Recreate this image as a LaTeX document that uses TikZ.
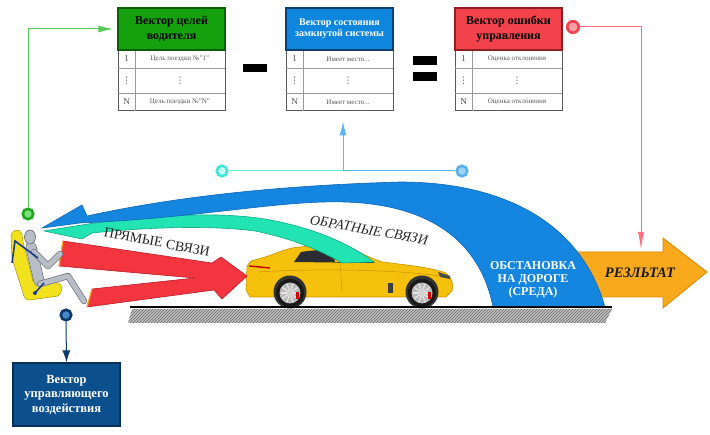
\documentclass[tikz,border=0pt]{standalone}
\usepackage{fontspec}
\setmainfont{Liberation Serif}
\newfontfamily\symfont{DejaVu Sans}
\usetikzlibrary{arrows.meta,patterns}
\definecolor{hgreen}{HTML}{15A10E}
\definecolor{hgreenD}{HTML}{0D5E08}
\definecolor{hblue}{HTML}{0E86DE}
\definecolor{hblueD}{HTML}{0B3F70}
\definecolor{hred}{HTML}{F2434C}
\definecolor{hredD}{HTML}{8E1E24}
\definecolor{archblue}{HTML}{1586DF}
\definecolor{archblueD}{HTML}{0E66B8}
\definecolor{teal}{HTML}{22E3B2}
\definecolor{tealD}{HTML}{12A888}
\definecolor{redarr}{HTML}{F2353F}
\definecolor{redarrD}{HTML}{B81E28}
\definecolor{orarr}{HTML}{F8A91C}
\definecolor{orarrD}{HTML}{DE8600}
\definecolor{ctrlblue}{HTML}{0B4F8C}
\definecolor{ctrlblueD}{HTML}{072F58}
\definecolor{seatY}{HTML}{F2E21E}
\definecolor{seatD}{HTML}{B0A010}
\definecolor{manL}{HTML}{B9BDC6}
\definecolor{manD}{HTML}{6E747E}
\definecolor{belt}{HTML}{1B3C8C}
\definecolor{carY}{HTML}{F6C10C}
\definecolor{carD}{HTML}{C99200}
\definecolor{carWin}{HTML}{2B2C33}
\definecolor{gLine}{HTML}{58C858}
\definecolor{gRing}{HTML}{1FA81F}
\definecolor{gIn}{HTML}{7BE07B}
\definecolor{rLine}{HTML}{FF6F80}
\definecolor{rRing}{HTML}{F2404F}
\definecolor{rIn}{HTML}{FF9DA4}
\definecolor{cLine}{HTML}{5FEBDD}
\definecolor{cRing}{HTML}{42E6D6}
\definecolor{cIn}{HTML}{C4FFF8}
\definecolor{bLine}{HTML}{5EB6F0}
\definecolor{bRing}{HTML}{58B0EE}
\definecolor{bIn}{HTML}{A2D4F8}
\definecolor{dRing}{HTML}{0C3A6A}
\definecolor{dIn}{HTML}{4A86C8}
\newcommand\hdrbig{\bfseries\fontsize{12}{14.5}\selectfont}
\newcommand\hdrsmall{\bfseries\fontsize{10}{11.5}\selectfont}
\newcommand\mydots{{\symfont ⋮}}
\newcommand\vectable[9]{%
  \node[rowbox] (#1rows) at ({#2+53.5},80.5) {};
  \draw[rowline] (#2,68) -- ({#2+107},68);
  \draw[rowline] (#2,93) -- ({#2+107},93);
  \draw[rowline] ({#2+17},50) -- ({#2+17},111);
  \node[hdr, fill=#3, draw=#4, text=#5, font=#9] (#1h) at ({#2+53.5},29) {#6};
  \node[numtxt] (#1n1) at ({#2+8.5},59) {1};
  \node[numtxt] (#1n2) at ({#2+8.5},80.5) {\mydots};
  \node[numtxt] (#1n3) at ({#2+8.5},102) {N};
  \node[rowtxt] (#1t1) at ({#2+62},59) {#7};
  \node[numtxt] (#1t2) at ({#2+62},80.5) {\mydots};
  \node[rowtxt] (#1t3) at ({#2+62},102) {#8};
}
\begin{document}
\begin{tikzpicture}[x=1pt,y=-1pt,
  hdr/.style={draw, line width=1.4pt, minimum width=107pt, minimum height=42pt, inner sep=1pt, align=center},
  rowbox/.style={draw=black!65, line width=1pt, fill=white, minimum width=107pt, minimum height=61pt, inner sep=0},
  rowline/.style={draw=black!40, line width=0.6pt},
  numtxt/.style={font=\fontsize{9}{10}\selectfont, text=black!70, inner sep=0},
  rowtxt/.style={font=\fontsize{7}{8}\selectfont, text=black!65, inner sep=0},
  dotc/.style={circle, minimum size=10.5pt, inner sep=0, line width=2.6pt},
  conn/.style={line width=1pt},
  limbD/.style={draw=manD, line width=6.4pt, line cap=round, line join=round},
  limbL/.style={draw=manL, line width=5pt, line cap=round, line join=round},
  slant/.style={font=\fontsize{14}{15}\selectfont, text=black!85, inner sep=0},
]
\useasboundingbox (0,0) rectangle (710,435);

% ---------- road ----------
\fill[gray!50] (132,309) -- (612,309) -- (605,323) -- (128,323) -- cycle;
\fill[pattern=north east lines, pattern color=gray!85!black] (132,309) -- (612,309) -- (605,323) -- (128,323) -- cycle;

% ---------- result arrow ----------
\filldraw[fill=orarr, draw=orarrD, line width=0.8pt] (575,252) -- (663,252) -- (663,238) -- (707,272) -- (663,308) -- (663,297) -- (575,297) -- cycle;
\node[font=\bfseries\itshape\fontsize{14.5}{15}\selectfont, text=black!90, inner sep=0] (res) at (640,273) {РЕЗЛЬТАТ};

% ---------- car ----------
\filldraw[fill=carY, draw=carD, line width=0.6pt]
  (247,266) -- (251,261) -- (262,258) .. controls (272,255) and (280,251) .. (292,248)
  .. controls (310,245) and (335,245) .. (350,249) .. controls (362,253) and (372,259) .. (383,262)
  .. controls (405,265) and (430,267) .. (446,273) .. controls (452,277) and (454,286) .. (452,291)
  -- (446,297) -- (250,297) -- (246,290) -- cycle;
\fill[carWin] (294,262) -- (301,252) .. controls (320,249) and (342,249) .. (352,252) -- (375,263) -- cycle;
\fill[carY] (333,250) -- (338,250) -- (340,262) -- (335,262) -- cycle;
\draw[carD, line width=0.5pt] (258,272) .. controls (320,268) and (400,270) .. (440,276);
\draw[carD, line width=0.4pt] (340,263) -- (342,292);
\draw[red!75!black, line width=1.4pt] (249,266) -- (270,268);
\fill[black!70] (438,272) -- (450,276) -- (450,279) -- (440,277) -- cycle;
\fill[black!75] (388,283) rectangle (393,293);
\foreach \wx in {290,422}{
  \fill[black!80] (\wx,292) circle (16.5);
  \fill[black!90] (\wx,293) circle (14);
  \fill[gray!55] (\wx,293) circle (10.5);
  \foreach \a in {0,36,...,324}{\draw[gray!20, line width=1.3pt] (\wx,293) -- ++(\a:9.5);}
  \fill[gray!35] (\wx,293) circle (3);
  \fill[red!85!black] ([shift={(6,-1)}]\wx,293) rectangle ++(3,7);
}

% ---------- feedback arrows ----------
\filldraw[fill=teal, draw=tealD, line width=0.6pt]
  (44,231) -- (88,224) .. controls (160,214) and (220,212) .. (265,219)
  .. controls (305,226) and (345,240) .. (374,262) -- (342,263)
  .. controls (320,250) and (290,238) .. (255,231) .. controls (200,224) and (130,229) .. (92,233)
  -- (82,239) -- cycle;
\filldraw[fill=archblue, draw=archblueD, line width=0.6pt]
  (42,228) -- (82,205) -- (87,216) .. controls (160,200) and (260,186) .. (400,182)
  .. controls (500,182) and (580,220) .. (605,307) -- (493,307)
  .. controls (482,250) and (440,205) .. (345,202) .. controls (280,200) and (200,218) .. (80,223) -- cycle;
\node[align=center, text=white, font=\bfseries\fontsize{12}{13}\selectfont, inner sep=0] (env) at (533,280) {ОБСТАНОВКА\\НА ДОРОГЕ\\(СРЕДА)};

% ---------- direct links arrow ----------
\filldraw[fill=redarr, draw=redarrD, line width=0.6pt]
  (63,241) -- (212,263) -- (221,257) -- (247,276) -- (222,299) -- (214,290) -- (87,307) -- (92,289) -- (195,278) -- (59,266) -- cycle;
\draw[orarr, line width=1.2pt] (63,241) -- (59,266);
\draw[orarr, line width=1.2pt] (87,307) -- (92,289);

\node[slant, rotate=-11] (direct) at (157,242) {ПРЯМЫЕ СВЯЗИ};
\node[slant, rotate=-10, font=\itshape\fontsize{14}{15}\selectfont] (feedback) at (369,230) {ОБРАТНЫЕ СВЯЗИ};

% ---------- road line ----------
\draw[black, line width=2pt] (130,307) -- (612,307);

% ---------- driver ----------
\filldraw[fill=seatY, draw=seatD, line width=0.6pt]
  (11,236) .. controls (12,229) and (20,228) .. (22,234) -- (23,242) -- (33,281) -- (58,283)
  .. controls (63,284) and (63,292) .. (58,296) -- (30,300) .. controls (25,300) and (24,297) .. (23,293)
  -- (12,258) -- cycle;
\draw[manD, line width=11pt, line cap=round] (31,247) -- (39,281);
\draw[manL, line width=9.6pt, line cap=round] (31,247) -- (39,281);
\draw[limbD] (40,284) -- (68,276) -- (84,301);
\draw[limbL] (40,284) -- (68,276) -- (84,301);
\draw[limbD] (34,252) -- (48,266) -- (60,254);
\draw[limbL] (34,252) -- (48,266) -- (60,254);
\filldraw[fill=manL, draw=manD, line width=0.7pt] (30,237) ellipse (5.5 and 7);
\draw[belt, line width=1.6pt] (12,263) -- (15,241) -- (38,258);
\draw[belt, line width=1.6pt] (35,293) -- (44,283);
\fill[belt] (35,293) circle (2);

% ---------- tables ----------
\vectable{ta}{118}{hgreen}{hgreenD}{black}{Вектор целей\\водителя}{Цель поездки №"1"}{Цель поездки №"N"}{\hdrbig}
\vectable{tb}{286}{hblue}{hblueD}{white}{Вектор состояния\\замкнутой системы}{Имеет место...}{Имеет место...}{\hdrsmall}
\vectable{tc}{455}{hred}{hredD}{black}{Вектор ошибки\\управления}{Оценка отклонения}{Оценка отклонения}{\hdrbig}
\node[fill=black, minimum width=24pt, minimum height=8pt, inner sep=0] (minus) at (255,68) {};
\node[fill=black, minimum width=24pt, minimum height=9pt, inner sep=0] (eqa) at (425,60.5) {};
\node[fill=black, minimum width=24pt, minimum height=9pt, inner sep=0] (eqb) at (425,76.5) {};

% ---------- control vector box ----------
\node[draw=ctrlblueD, fill=ctrlblue, line width=1.2pt, minimum width=107pt, minimum height=63pt, align=center,
  text=white, font=\bfseries\fontsize{12.5}{14.5}\selectfont] (ctrl) at (66.5,394.5) {Вектор\\управляющего\\воздействия};

% ---------- circles ----------
\node[dotc, draw=gRing, fill=gIn] (gc) at (28,214) {};
\node[dotc, draw=rRing, fill=rIn, minimum size=11.5pt] (rc) at (573,27) {};
\node[dotc, draw=cRing, fill=cIn] (cc) at (222,171) {};
\node[dotc, draw=bRing, fill=bIn] (bc) at (462,171) {};
\node[dotc, draw=dRing, fill=dIn] (dc) at (66,315) {};
\coordinate (jn) at (343,171);
\coordinate (rtip) at (641,250);

% ---------- connectors ----------
\draw[conn, gLine, -{Latex[length=15pt,width=7pt]}, shorten >=4pt] (gc.north) |- (tah.west);
\draw[conn, rLine, -{Latex[length=18pt,width=6pt]}] (rc.east) -| (rtip);
\draw[conn, cLine] (cc.east) -- (jn);
\draw[conn, bLine] (bc.west) -- (jn);
\draw[conn, bLine, -{Latex[length=14pt,width=7pt]}, shorten >=10pt] (jn) -- (jn |- tbrows.south);
\draw[conn, dRing, -{Latex[length=12pt,width=8pt]}] (dc.south) -- (ctrl.north);
\end{tikzpicture}
\end{document}
